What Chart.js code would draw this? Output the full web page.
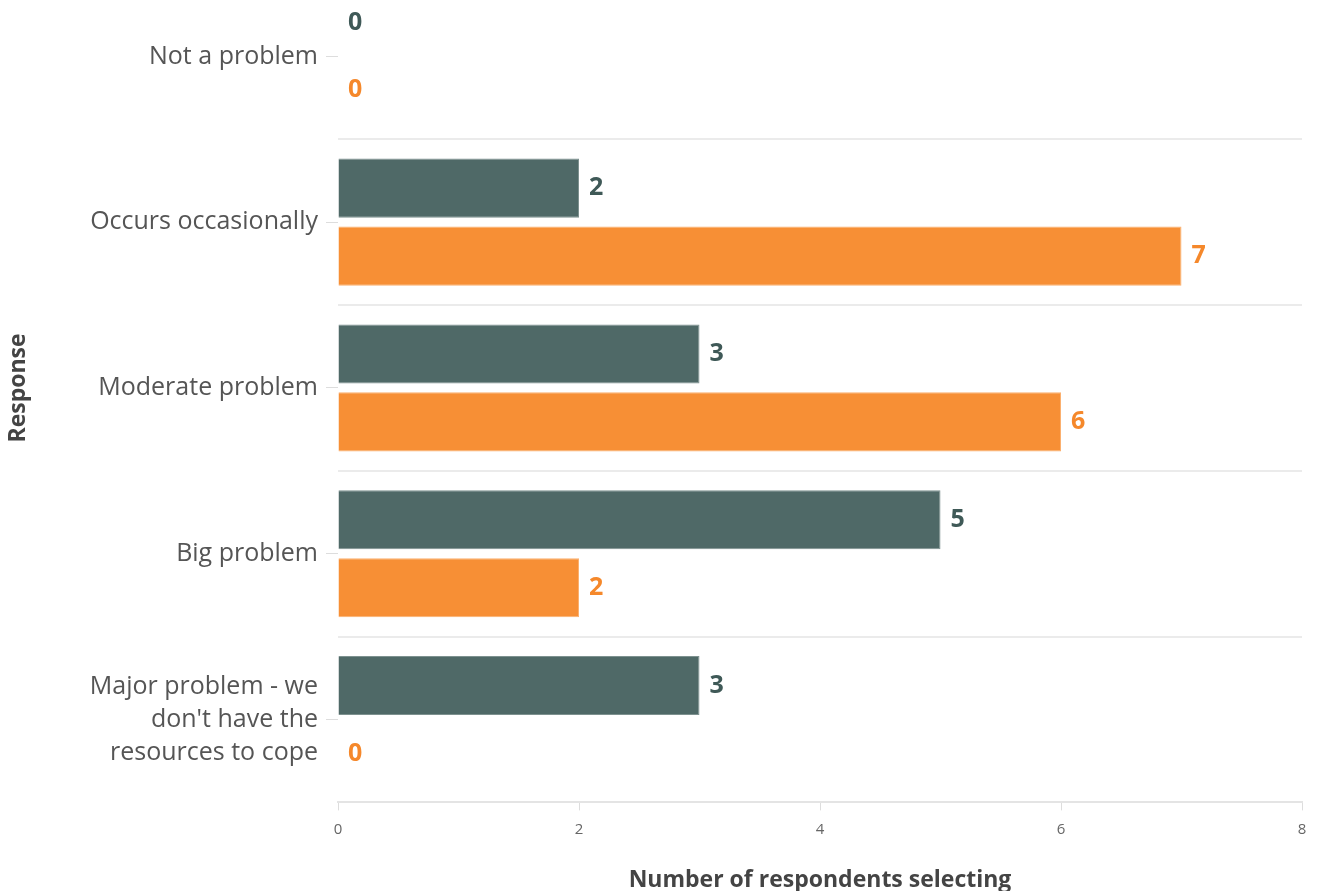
<!DOCTYPE html>
<html>
<head>
<meta charset="utf-8">
<script src="https://cdn.jsdelivr.net/npm/chart.js@4"></script>
<style>
  html, body { margin: 0; padding: 0; background: #fff; overflow: hidden; }
  #wrap { position: absolute; left: 0; top: -84px; width: 1320px; height: 982px; }
</style>
</head>
<body>
<div id="wrap"><canvas id="respChart"></canvas></div>
<script>
// data
const categories = [
  'Not a problem',
  'Occurs occasionally',
  'Moderate problem',
  'Big problem',
  ['Major problem - we', "don't have the", 'resources to cope']
];
const seriesA = [0, 2, 3, 5, 3];
const seriesB = [0, 7, 6, 2, 0];
const xTicks = [0, 2, 4, 6, 8];

const barColors = ['#4f6967', '#f78f35'];
const labelColors = ['#3f5957', '#f5882b'];
const fontFamily = '"Open Sans", Lato, sans-serif';

// numbers drawn just past the end of each bar
const valueLabels = {
  id: 'valueLabels',
  afterDatasetsDraw(chart) {
    const ctx = chart.ctx;
    chart.data.datasets.forEach((ds, i) => {
      const meta = chart.getDatasetMeta(i);
      meta.data.forEach((bar, j) => {
        ctx.save();
        ctx.font = 'bold 25px ' + fontFamily;
        ctx.fillStyle = labelColors[i];
        ctx.textBaseline = 'middle';
        ctx.fillText(ds.data[j], bar.x + 10, bar.y);
        ctx.restore();
      });
    });
  }
};

new Chart(document.getElementById('respChart'), {
  type: 'bar',
  data: {
    labels: categories,
    datasets: [
      { label: 'Series 1', data: seriesA, backgroundColor: barColors[0], borderColor: '#7d918f', borderWidth: 1,
        categoryPercentage: 0.82, barPercentage: 0.87 },
      { label: 'Series 2', data: seriesB, backgroundColor: barColors[1], borderColor: '#fbb06f', borderWidth: 1,
        categoryPercentage: 0.82, barPercentage: 0.87 }
    ]
  },
  options: {
    indexAxis: 'y',
    responsive: true,
    maintainAspectRatio: false,
    animation: false,
    layout: { padding: { right: 18, bottom: 0 } },
    plugins: { legend: { display: false }, tooltip: { enabled: false } },
    scales: {
      x: {
        type: 'linear',
        min: 0,
        max: 8,
        afterBuildTicks: s => { s.ticks = xTicks.map(v => ({ value: v })); },
        grid: { drawOnChartArea: false, tickLength: 8, color: '#dddddd' },
        border: { color: '#e4e4e4', width: 2 },
        ticks: { color: '#666', font: { family: fontFamily, size: 15 }, padding: 10 },
        title: {
          display: true,
          text: 'Number of respondents selecting',
          color: '#444',
          font: { family: fontFamily, size: 23, weight: 'bold' },
          padding: { top: 18, bottom: 4 }
        }
      },
      y: {
        type: 'category',
        offset: true,
        afterFit: s => { s.width = 338; },
        grid: { offset: false, drawOnChartArea: false, tickLength: 12, color: '#dddddd' },
        border: { display: false },
        ticks: { color: '#555', font: { family: fontFamily, size: 25, lineHeight: 1.32 }, padding: 8 },
        title: {
          display: true,
          text: 'Response',
          color: '#444',
          font: { family: fontFamily, size: 23, weight: 'bold' },
          padding: { top: 5, bottom: 0 }
        }
      },
      y2: {
        type: 'category',
        position: 'right',
        labels: categories,
        offset: true,
        grid: { offset: true, drawTicks: false, color: '#ebebeb', lineWidth: 2 },
        border: { display: false },
        ticks: { display: false }
      }
    }
  },
  plugins: [valueLabels]
});
</script>
</body>
</html>
